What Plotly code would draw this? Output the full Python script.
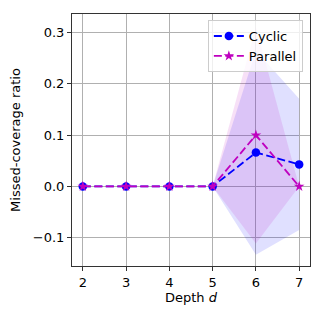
import plotly.graph_objects as go

depth = [2, 3, 4, 5, 6, 7]
cyclic_mean = [0.0, 0.0, 0.0, 0.0, 0.066, 0.043]
cyclic_std = [0.0, 0.0, 0.0, 0.0, 0.199, 0.128]
parallel_mean = [0.0, 0.0, 0.0, 0.0, 0.100, 0.0]
parallel_std = [0.0, 0.0, 0.0, 0.0, 0.211, 0.0]

y_ticks = [-0.1, 0.0, 0.1, 0.2, 0.3]
y_labels = ["\u22120.1", "0.0", "0.1", "0.2", "0.3"]


def band(x, mean, std, fill):
    upper = [m + s for m, s in zip(mean, std)]
    lower = [m - s for m, s in zip(mean, std)]
    return go.Scatter(x=x + x[::-1], y=upper + lower[::-1], fill="toself",
                      fillcolor=fill, line=dict(width=0), mode="lines",
                      hoverinfo="skip", showlegend=False)


fig = go.Figure()
fig.add_trace(band(depth, cyclic_mean, cyclic_std, "rgba(0,0,255,0.12)"))
fig.add_trace(band(depth, parallel_mean, parallel_std, "rgba(191,0,191,0.12)"))
fig.add_trace(go.Scatter(x=depth, y=cyclic_mean, name="Cyclic", mode="lines+markers",
                         line=dict(color="#0000ff", width=1.8, dash="8px,3.5px"),
                         marker=dict(symbol="circle", size=8.5, color="#0000ff")))
fig.add_trace(go.Scatter(x=depth, y=parallel_mean, name="Parallel", mode="lines+markers",
                         line=dict(color="#bf00bf", width=1.8, dash="8px,3.5px"),
                         marker=dict(symbol="star", size=8, color="#bf00bf")))

axis_common = dict(showline=True, mirror=True, linecolor="#333333", linewidth=1,
                   showgrid=True, gridcolor="#b0b0b0", gridwidth=1,
                   ticks="outside", ticklen=4, tickcolor="#333333",
                   zeroline=False, tickfont=dict(size=13, color="black"))

# page body has an 8px margin, so the figure is shifted by 8px right and down
fig.update_layout(
    width=324, height=324,
    margin=dict(l=64, r=22, t=6, b=66),
    plot_bgcolor="white", paper_bgcolor="white",
    font=dict(family="DejaVu Sans", size=13, color="black"),
    xaxis=dict(range=[1.75, 7.25], tickvals=depth,
               title=dict(text="Depth <i>d</i>", standoff=3, font=dict(size=13)),
               **axis_common),
    yaxis=dict(range=[-0.155, 0.336], tickvals=y_ticks, ticktext=y_labels,
               title=dict(text="Missed-coverage ratio", standoff=10, font=dict(size=13)),
               **axis_common),
    legend=dict(x=0.97, y=0.976, xanchor="right", yanchor="top",
                bgcolor="rgba(255,255,255,0.8)", bordercolor="#cccccc", borderwidth=1,
                font=dict(size=13), itemwidth=30, tracegroupgap=0),
)

fig.write_html("out.html")
